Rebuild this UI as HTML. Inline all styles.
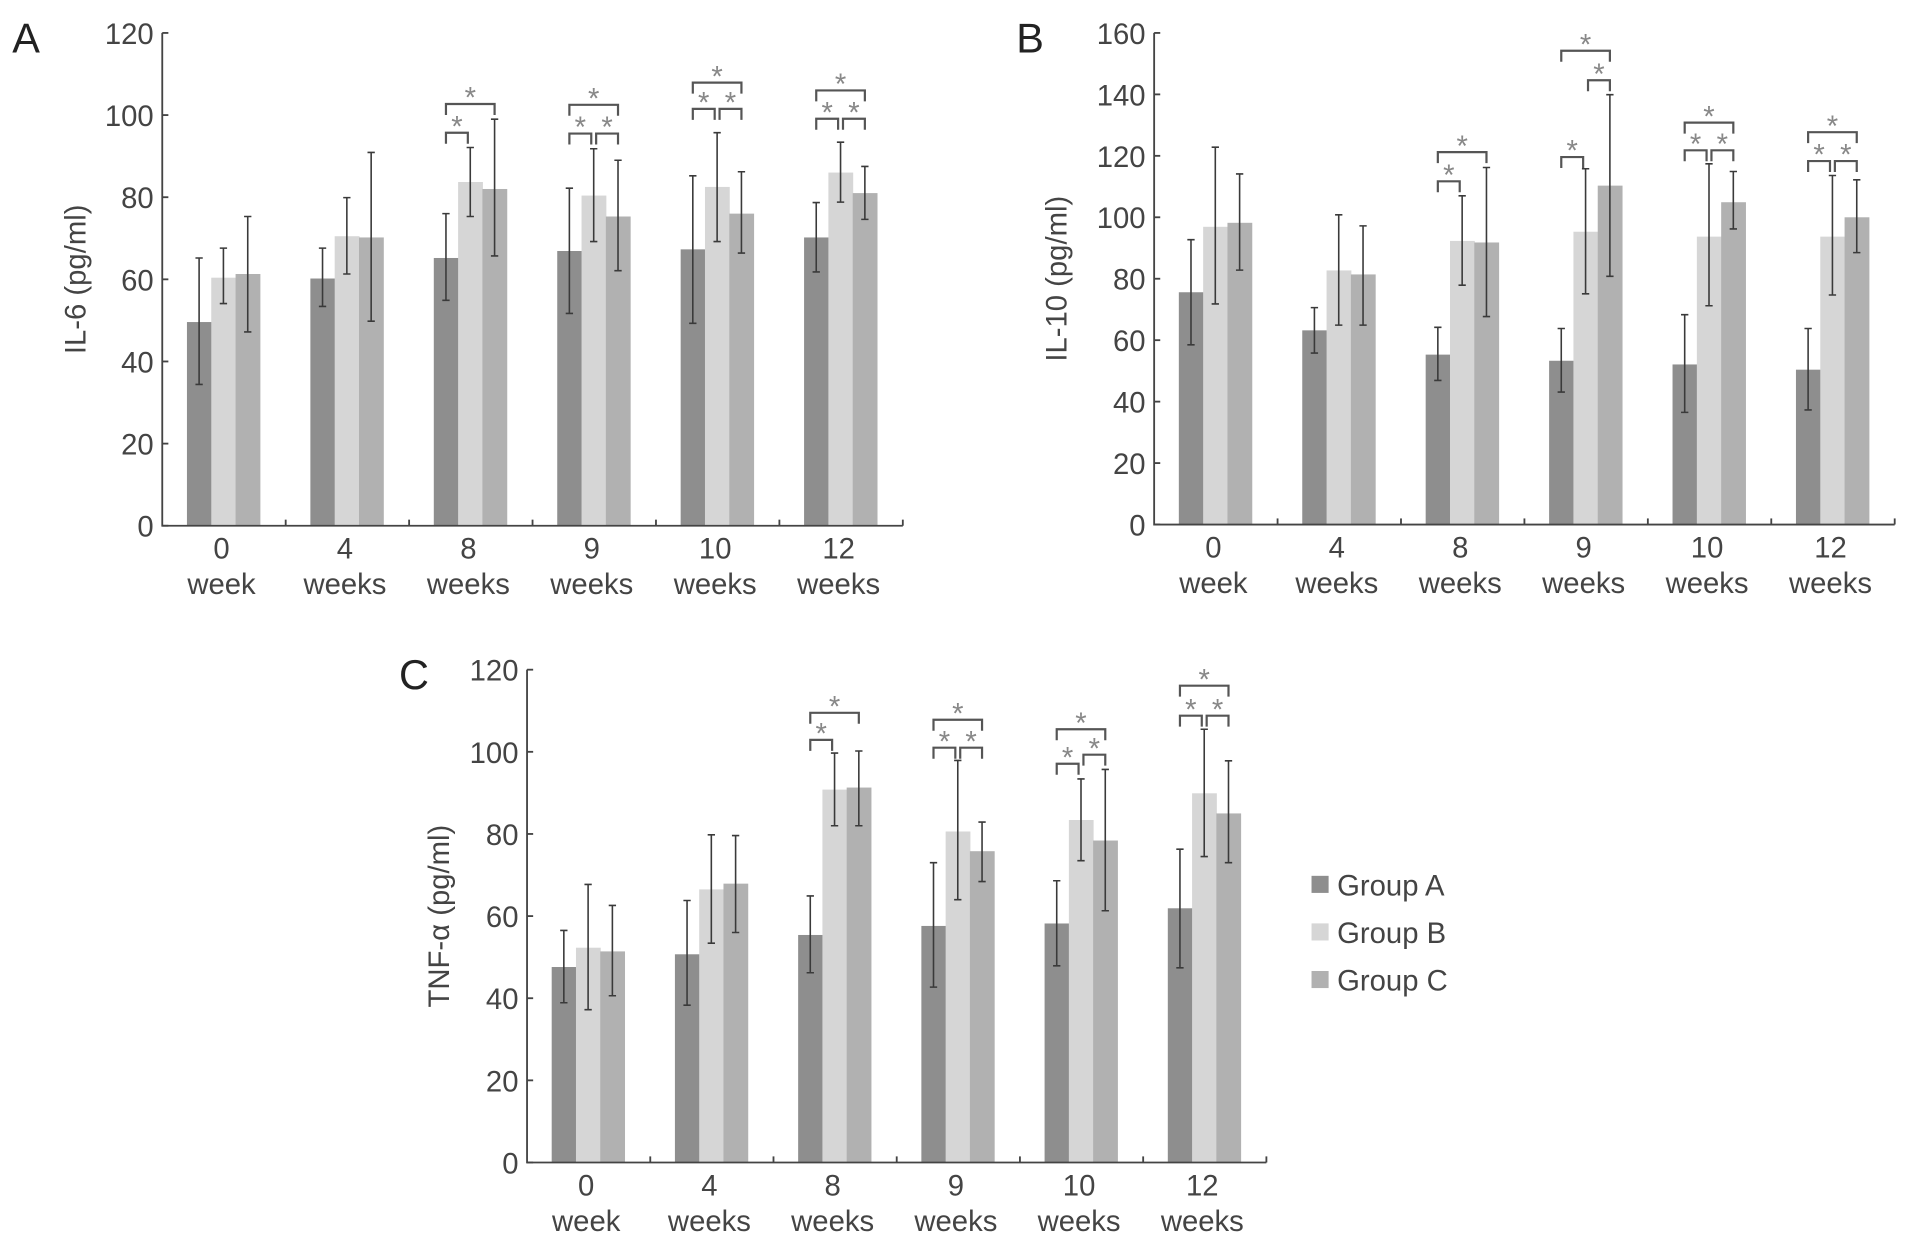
<!DOCTYPE html>
<html><head><meta charset="utf-8"><style>
html,body{margin:0;padding:0;background:#fff;}
svg{display:block;font-family:"Liberation Sans",sans-serif;}
</style></head><body>
<svg id="fig" width="1913" height="1243" viewBox="0 0 1568 1019" preserveAspectRatio="none" xmlns="http://www.w3.org/2000/svg"></svg>
<script>
const categories = ["0","4","8","9","10","12"];
const catSub = ["week","weeks","weeks","weeks","weeks","weeks"];
const groups = ["Group A","Group B","Group C"];
// Panel A IL-6
const il6A = [49.6,60.2,65.2,66.9,67.3,70.2];
const il6B = [60.4,70.5,83.7,80.4,82.5,86.0];
const il6C = [61.3,70.2,82.0,75.3,76.0,81.0];
const il6AHi = [65.2,67.6,76.0,82.2,85.2,78.7], il6ALo = [34.4,53.4,54.9,51.7,49.3,61.8];
const il6BHi = [67.6,79.9,92.1,91.8,95.7,93.4], il6BLo = [54.1,61.3,75.3,69.2,69.2,78.8];
const il6CHi = [75.3,90.9,99.0,89.0,86.2,87.5], il6CLo = [47.2,49.8,65.7,62.1,66.4,74.6];
// brackets: [category, from group, to group, level]
const il6Sig = [[2,0,1,95.7],[2,0,2,102.7],[3,0,1,95.5],[3,1,2,95.5],[3,0,2,102.5],[4,0,1,101.5],[4,1,2,101.5],[4,0,2,107.9],[5,0,1,99.1],[5,1,2,99.1],[5,0,2,106]];
// Panel B IL-10
const il10A = [75.6,63.2,55.3,53.3,52.1,50.4];
const il10B = [96.9,82.7,92.3,95.3,93.7,93.7];
const il10C = [98.2,81.4,91.8,110.3,104.9,100.0];
const il10AHi = [92.7,70.6,64.2,63.8,68.3,63.8], il10ALo = [58.5,55.8,46.9,43.1,36.5,37.3];
const il10BHi = [122.8,100.8,107.0,115.8,117.4,113.6], il10BLo = [71.8,64.9,77.9,75.1,71.2,74.7];
const il10CHi = [114.1,97.2,116.2,139.9,114.9,112.2], il10CLo = [82.8,64.9,67.7,80.8,96.2,88.5];
const il10Sig = [[2,0,1,111.7],[2,0,2,121.2],[3,0,1,119.6],[3,1,2,144.6],[3,0,2,154.2],[4,0,1,121.8],[4,1,2,121.8],[4,0,2,130.8],[5,0,1,118.3],[5,1,2,118.3],[5,0,2,127.7]];
// Panel C TNF-a
const tnfA = [47.6,50.7,55.4,57.6,58.2,61.9];
const tnfB = [52.3,66.5,90.8,80.6,83.4,89.9];
const tnfC = [51.4,67.9,91.3,75.8,78.4,85.0];
const tnfAHi = [56.5,63.8,64.9,73.0,68.6,76.3], tnfALo = [38.9,38.3,46.2,42.7,47.9,47.4];
const tnfBHi = [67.7,79.8,99.7,97.9,93.4,105.5], tnfBLo = [37.2,53.4,82.0,64.0,73.5,74.5];
const tnfCHi = [62.6,79.6,100.2,82.9,95.7,97.8], tnfCLo = [40.6,56.0,82.0,68.4,61.3,73.0];
const tnfSig = [[2,0,1,102.9],[2,0,2,109.5],[3,0,1,101],[3,1,2,101],[3,0,2,107.8],[4,0,1,97.1],[4,1,2,99.3],[4,0,2,105.5],[5,0,1,108.8],[5,1,2,108.8],[5,0,2,116.1]];
const yTicksA = [0,20,40,60,80,100,120];
const yTicksB = [0,20,40,60,80,100,120,140,160];

const NS="http://www.w3.org/2000/svg";
const svg=document.getElementById('fig');
const colors=["#8e8e8e","#d6d6d6","#b1b1b1"];
function mk(tag,attrs,parent){const e=document.createElementNS(NS,tag);for(const k in attrs)e.setAttribute(k,attrs[k]);(parent||svg).appendChild(e);return e;}

function panel(p){
  const g=mk('g',{});
  
  
  const cw=(p.x1-p.x0)/categories.length;
  const y=v=>p.y0-(v/p.ymax)*(p.y0-p.ytop);
  const bx=(c,k)=>p.x0+c*cw+cw*0.2+k*cw*0.197;
  const bw=cw*0.197;
  const series=[p.a,p.b,p.c], his=[p.ah,p.bh,p.ch], los=[p.al,p.bl,p.cl];
  for(let c=0;c<categories.length;c++){
    for(let k=0;k<3;k++){
      const v=series[k][c];
      const r=mk('rect',{x:bx(c,k),y:y(v),width:bw+0.4,height:y(0)-y(v),fill:colors[k]},g);
      
      
    }
    for(let k=0;k<3;k++){
      const cx=bx(c,k)+bw/2;
      const e=mk('path',{d:`M${cx},${y(los[k][c])}V${y(his[k][c])}M${cx-3},${y(his[k][c])}h6M${cx-3},${y(los[k][c])}h6`,stroke:"#3a3a3a","stroke-width":1.3,fill:"none"},g);
      
      
    }
  }
  // significance
  p.sig.forEach(s=>{
    let xa=bx(s[0],s[1])+bw*0.5, xb=bx(s[0],s[2])+bw*0.5;
    if(s[2]-s[1]==1){ if(s[1]==1) xa+=2; else xb-=2; }
    const yy=y(s[3]);
    const br=mk('path',{d:`M${xa},${yy+9}V${yy}H${xb}V${yy+9}`,stroke:"#555",'stroke-width':1.8,fill:"none"},g);
    
    
    const st=mk('text',{x:(xa+xb)/2,y:yy+3,'text-anchor':'middle','font-size':24,fill:"#888"},g);
    st.textContent='*';
    
    
  });
  // axes
  const ax=mk('path',{d:`M${p.x0},${p.ytop}V${p.y0}H${p.x1}`,stroke:"#444","stroke-width":1.5,fill:"none"},g);
  
  
  p.ticks.forEach(t=>{
    mk('line',{x1:p.x0,x2:p.x0+5,y1:y(t),y2:y(t),stroke:"#444","stroke-width":1.5},g);
    const tl=mk('text',{x:p.x0-7,y:y(t)+9,'text-anchor':'end','font-size':24,fill:"#444"},g);
    tl.textContent=t;
    
    
  });
  for(let c=1;c<=categories.length;c++) mk('line',{x1:p.x0+c*cw,x2:p.x0+c*cw,y1:p.y0,y2:p.y0-5,stroke:"#444","stroke-width":1.5},g);
  categories.forEach((cat,c)=>{
    const cx=p.x0+c*cw+cw*0.48;
    const t1=mk('text',{x:cx,y:p.y0+27,'text-anchor':'middle','font-size':24,fill:"#444"},g);
    t1.textContent=cat;
    
    
    const t2=mk('text',{x:cx,y:p.y0+56,'text-anchor':'middle','font-size':24,fill:"#444"},g);
    t2.textContent=catSub[c];
    
    
  });
  const yt=mk('text',{x:0,y:0,'text-anchor':'middle','font-size':24,fill:"#444",transform:`translate(${p.titleX},${(p.y0+p.ytop)/2}) rotate(-90)`},g);
  yt.textContent=p.title;
  
  
  const lt=mk('text',{x:p.letterX,y:p.ytop+16,'font-size':34,fill:"#222"},g);
  lt.textContent=p.letter;
  
  
}
panel({name:'panel-a-il6',key:'il6',x0:133,x1:740,y0:431,ytop:27,ymax:120,ticks:yTicksA,a:il6A,b:il6B,c:il6C,ah:il6AHi,al:il6ALo,bh:il6BHi,bl:il6BLo,ch:il6CHi,cl:il6CLo,sig:il6Sig,title:"IL-6 (pg/ml)",titleX:70,letter:"A",letterX:10});
panel({name:'panel-b-il10',key:'il10',x0:946,x1:1553,y0:430,ytop:27,ymax:160,ticks:yTicksB,a:il10A,b:il10B,c:il10C,ah:il10AHi,al:il10ALo,bh:il10BHi,bl:il10BLo,ch:il10CHi,cl:il10CLo,sig:il10Sig,title:"IL-10 (pg/ml)",titleX:874,letter:"B",letterX:833});
panel({name:'panel-c-tnf',key:'tnf',x0:432,x1:1038,y0:953,ytop:549,ymax:120,ticks:yTicksA,a:tnfA,b:tnfB,c:tnfC,ah:tnfAHi,al:tnfALo,bh:tnfBHi,bl:tnfBLo,ch:tnfCHi,cl:tnfCLo,sig:tnfSig,title:"TNF-\u03b1 (pg/ml)",titleX:368,letter:"C",letterX:327});
// legend
groups.forEach((gname,k)=>{
  const yy=725+k*39;
  const r=mk('rect',{x:1075,y:yy-7,width:14,height:14,fill:colors[k]});
  
  
  const t=mk('text',{x:1096,y:yy+9,'font-size':24,fill:"#444"});
  t.textContent=gname;
  
  
});
</script>
</body></html>
